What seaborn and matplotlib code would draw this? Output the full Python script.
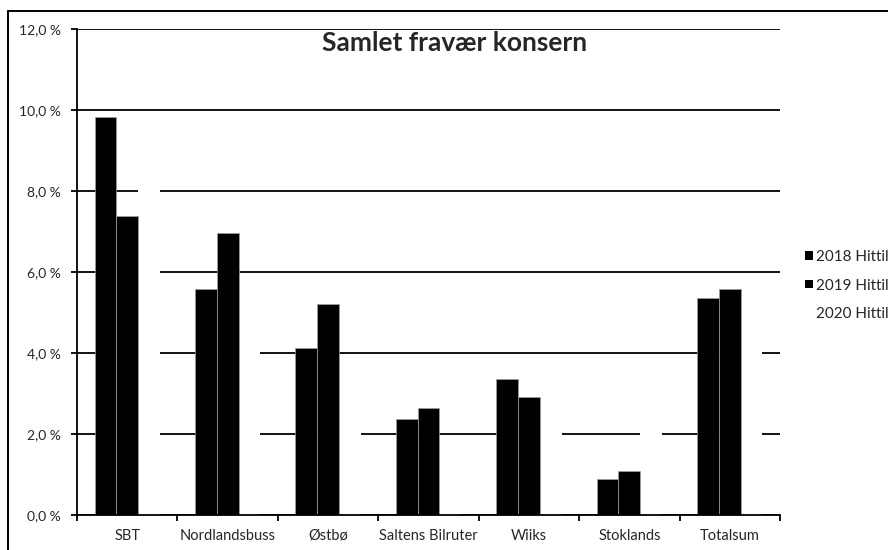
import matplotlib
matplotlib.use("Agg")
import matplotlib.pyplot as plt
import numpy as np
import pandas as pd
import seaborn as sns
from matplotlib.lines import Line2D
from matplotlib.patches import Patch
from matplotlib.ticker import FuncFormatter, FixedLocator

# ---------------------------------------------------------------------------
# Data (sykefravær i prosent)
# ---------------------------------------------------------------------------
firmaer = ["SBT", "Nordlandsbuss", "Østbø", "Saltens Bilruter",
           "Wiiks", "Stoklands", "Totalsum"]
serier = ["2018 Hittil", "2019 Hittil", "2020 Hittil"]
hittil_2018 = [9.83, 5.57, 4.13, 2.37, 3.35, 0.90, 5.37]
hittil_2019 = [7.38, 6.97, 5.21, 2.63, 2.91, 1.09, 5.58]
# 2020 is drawn in white (only visible as gaps in the gridlines), estimated
hittil_2020 = [8.6, 5.0, 3.0, 1.6, 3.0, 2.6, 4.9]
y_ticks = [0, 2, 4, 6, 8, 10, 12]

df = pd.DataFrame({
    "Firma": firmaer * 3,
    "Serie": np.repeat(serier, len(firmaer)),
    "Fravær": hittil_2018 + hittil_2019 + hittil_2020,
})

sns.set_style("white")
plt.rcParams["font.family"] = ["Lato", "DejaVu Sans"]

W, H = 888, 550
fig = plt.figure(figsize=(W / 100, H / 100), dpi=100)
ax = fig.add_axes([77 / W, (H - 515) / H, 703 / W, (515 - 29) / H])

palette = {"2018 Hittil": "black", "2019 Hittil": "black", "2020 Hittil": "white"}
sns.barplot(data=df, x="Firma", y="Fravær", hue="Serie", palette=palette,
            saturation=1, width=0.65, ax=ax, legend=False,
            edgecolor="#a0a0a0", linewidth=0.5)
for bar in ax.containers[2]:
    bar.set_edgecolor("none")
for cont in ax.containers[:2]:
    for bar in cont:
        bar.set_zorder(1.5)

ax.set_axisbelow(True)
ax.yaxis.grid(True, color="black", linewidth=1.3)
ax.xaxis.grid(False)

ax.set_ylim(0, 12)
ax.set_xlim(-0.5, len(firmaer) - 0.5)
ax.set_yticks(y_ticks)
ax.yaxis.set_major_formatter(
    FuncFormatter(lambda v, _: f"{v:.1f} %".replace(".", ",")))
ax.xaxis.set_minor_locator(FixedLocator(np.arange(-0.5, len(firmaer), 1.0)))
ax.tick_params(axis="x", which="major", length=0, pad=10, labelsize=10.5)
ax.tick_params(axis="x", which="minor", length=4, width=1.3, color="black",
               direction="out", bottom=True)
ax.tick_params(axis="y", length=4, width=1.3, color="black", direction="out",
               pad=7.5, labelsize=10, left=True)
ax.set_xlabel("")
ax.set_ylabel("")

for side in ["top", "right"]:
    ax.spines[side].set_visible(False)
for side in ["left", "bottom"]:
    ax.spines[side].set_color("black")
    ax.spines[side].set_linewidth(1.3)

# Title
fig.text(455 / W, 1 - 43 / H, "Samlet fravær konsern", ha="center",
         va="center", fontsize=19, fontweight="bold")

# Legend (cut by the right edge as in the original)
handles = [Patch(facecolor=palette[s], edgecolor="none") for s in serier]
ax.legend(handles, serier, loc="upper left", frameon=False,
          bbox_to_anchor=(805 / W, 1 - 250 / H),
          bbox_transform=fig.transFigure, fontsize=11,
          handlelength=0.5, handleheight=0.5, handletextpad=0.25,
          labelspacing=0.95, borderaxespad=0, borderpad=0)

# Outer chart border (top and left)
fig.add_artist(Line2D([8 / W, 1], [1 - 11 / H, 1 - 11 / H],
                      color="black", linewidth=1.4))
fig.add_artist(Line2D([8 / W, 8 / W], [0, 1 - 11 / H],
                      color="black", linewidth=1.4))

fig.savefig("out.png", dpi=100)
